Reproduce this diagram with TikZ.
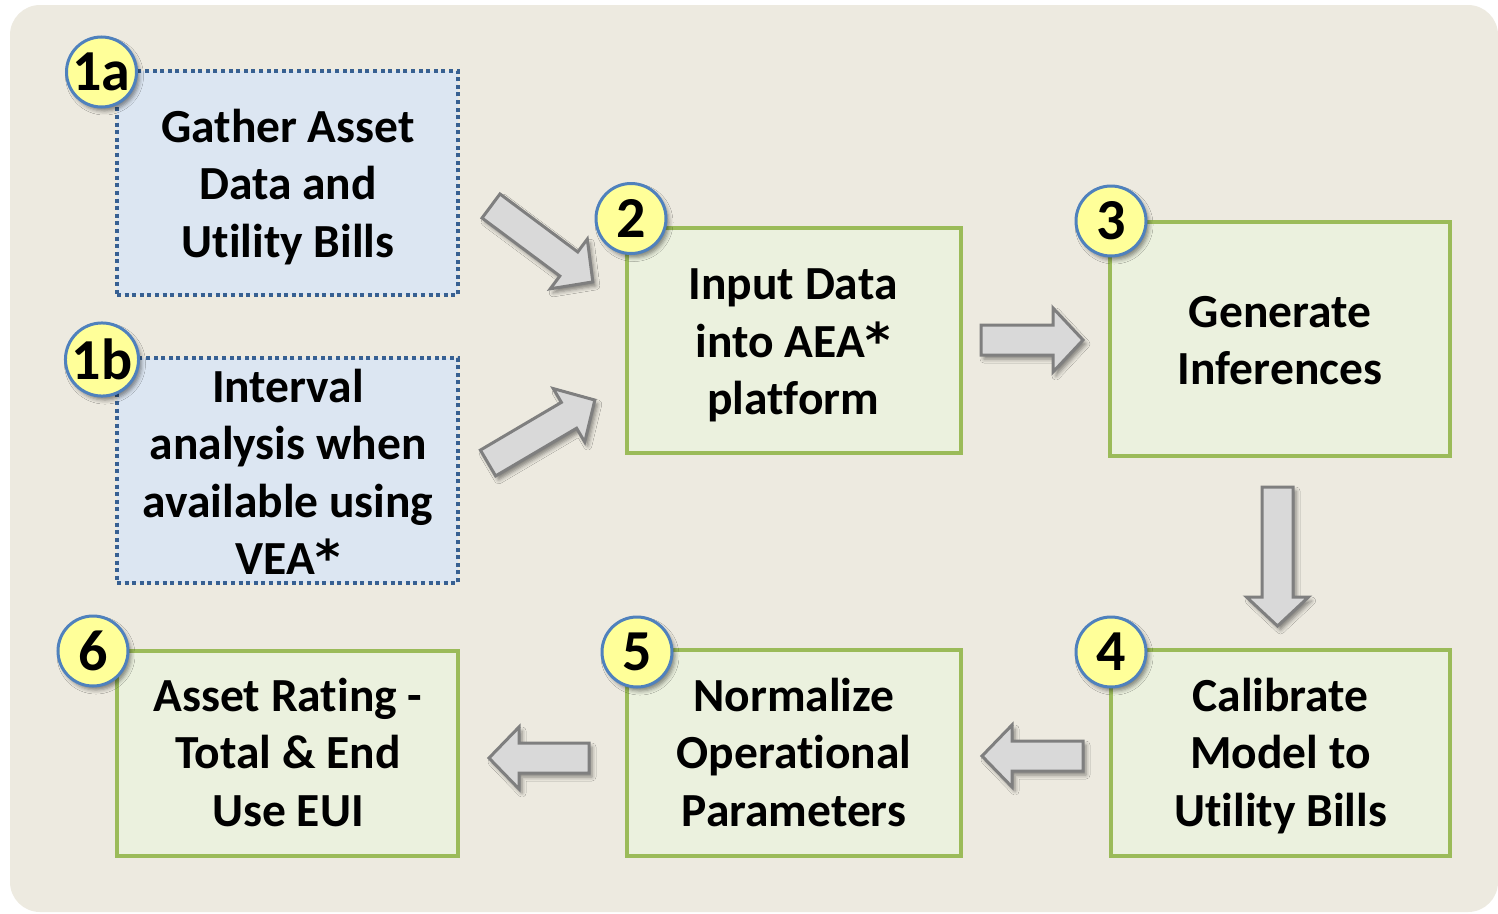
\documentclass[tikz,border=0pt]{standalone}
\usepackage{fontspec}
\setmainfont{Carlito}[Ligatures=NoCommon]
\newfontfamily\astfont{DejaVu Sans}
\newcommand{\bigast}{{\astfont\bfseries\fontsize{48}{57.5}\selectfont*}}
\newcommand{\boxlines}[1]{\begin{tabular}[t]{@{}c@{}}#1\end{tabular}}
\usetikzlibrary{shadows.blur}
\definecolor{bgc}{RGB}{237,234,224}
\definecolor{bluefill}{RGB}{220,230,242}
\definecolor{blueline}{RGB}{55,96,146}
\definecolor{greenfill}{RGB}{235,241,222}
\definecolor{greenline}{RGB}{155,187,89}
\definecolor{badgefill}{RGB}{255,255,153}
\definecolor{badgeline}{RGB}{79,129,189}
\definecolor{arrowfill}{RGB}{217,217,217}
\definecolor{arrowline}{RGB}{127,127,127}
\begin{document}
\begin{tikzpicture}[x=1pt,y=-1pt,
  boxtext/.style={font=\bfseries\fontsize{47.5}{57.5}\selectfont, text=black, inner sep=0pt, anchor=base},
  bluebox/.style={rectangle, draw=blueline, fill=bluefill, line width=4pt, dash pattern=on 4pt off 3.6pt, inner sep=0pt},
  greenbox/.style={rectangle, draw=greenline, fill=greenfill, line width=4pt, inner sep=0pt},
  badge/.style={circle, draw=badgeline, fill=badgefill, line width=3pt, minimum size=70pt, inner sep=0pt,
    font=\bfseries\fontsize{58}{58}\selectfont, text=black,
    blur shadow={shadow xshift=3pt, shadow yshift=-4pt, shadow blur radius=4pt, shadow opacity=45}},
  blockarrow/.style={draw=arrowline, fill=arrowfill, line width=3pt, line join=miter,
    blur shadow={shadow xshift=3pt, shadow yshift=-4pt, shadow blur radius=4pt, shadow opacity=45}}
]
\useasboundingbox (0,0) rectangle (1498,913);
\fill[bgc, rounded corners=30pt] (10,5) rectangle (1498,912);

% boxes
\node[bluebox, minimum width=341pt, minimum height=224pt] (s1a) at (287.5,183) {};
\node[bluebox, minimum width=341pt, minimum height=225pt] (s1b) at (287.5,470.5) {};
\node[greenbox, minimum width=334pt, minimum height=225pt] (s2) at (794,340.5) {};
\node[greenbox, minimum width=340pt, minimum height=234pt] (s3) at (1280,339) {};
\node[greenbox, minimum width=339pt, minimum height=206pt] (s4) at (1280.5,753) {};
\node[greenbox, minimum width=334pt, minimum height=206pt] (s5) at (794,753) {};
\node[greenbox, minimum width=341pt, minimum height=205pt] (s6) at (287.5,753.5) {};

% texts (anchored at the baseline of the first line)
\node[boxtext] (t1a) at (288,142) {\boxlines{Gather Asset\\Data and\\Utility Bills}};
\node[boxtext] (t1b) at (288,402) {\boxlines{Interval\\analysis when\\available using\\VEA\bigast}};
\node[boxtext] (t2) at (793,299.5) {\boxlines{Input Data\\into AEA\bigast\\platform}};
\node[boxtext] (t3) at (1280,327) {\boxlines{Generate\\Inferences}};
\node[boxtext] (t4) at (1280.5,711) {\boxlines{Calibrate\\Model to\\Utility Bills}};
\node[boxtext] (t5) at (794,711) {\boxlines{Normalize\\Operational\\Parameters}};
\node[boxtext] (t6) at (288,711) {\boxlines{Asset Rating -\\Total \& End\\Use EUI}};

% block arrows
\begin{scope}[shift={(491,206)}, rotate=-36.7]
  \draw[blockarrow] (0,-15) -- (97,-15) -- (97,-31) -- (127,0) -- (97,31) -- (97,15) -- (0,15) -- cycle;
\end{scope}
\begin{scope}[shift={(488,463)}, rotate=30.5]
  \draw[blockarrow] (0,-15) -- (94,-15) -- (94,-31) -- (124,0) -- (94,31) -- (94,15) -- (0,15) -- cycle;
\end{scope}
\begin{scope}[shift={(981,340)}]
  \draw[blockarrow] (0,-15) -- (72,-15) -- (72,-32) -- (102,0) -- (72,32) -- (72,15) -- (0,15) -- cycle;
\end{scope}
\begin{scope}[shift={(1277.5,487)}, rotate=-90]
  \draw[blockarrow] (0,-15.5) -- (110,-15.5) -- (110,-31) -- (139,0) -- (110,31) -- (110,15.5) -- (0,15.5) -- cycle;
\end{scope}
\begin{scope}[shift={(1083,756)}, rotate=180]
  \draw[blockarrow] (0,-15) -- (71,-15) -- (71,-31) -- (101,0) -- (71,31) -- (71,15) -- (0,15) -- cycle;
\end{scope}
\begin{scope}[shift={(589,758)}, rotate=180]
  \draw[blockarrow] (0,-15) -- (70,-15) -- (70,-31) -- (100,0) -- (70,31) -- (70,15) -- (0,15) -- cycle;
\end{scope}

% badges
\node[badge] (n1a) at (101.5,72) {1a};
\node[badge] (n1b) at (102,359.5) {1b};
\node[badge] (n2) at (631,218.5) {2};
\node[badge] (n3) at (1111,221) {3};
\node[badge] (n4) at (1111,652) {4};
\node[badge] (n5) at (637,652) {5};
\node[badge] (n6) at (93,651) {6};
\end{tikzpicture}
\end{document}
